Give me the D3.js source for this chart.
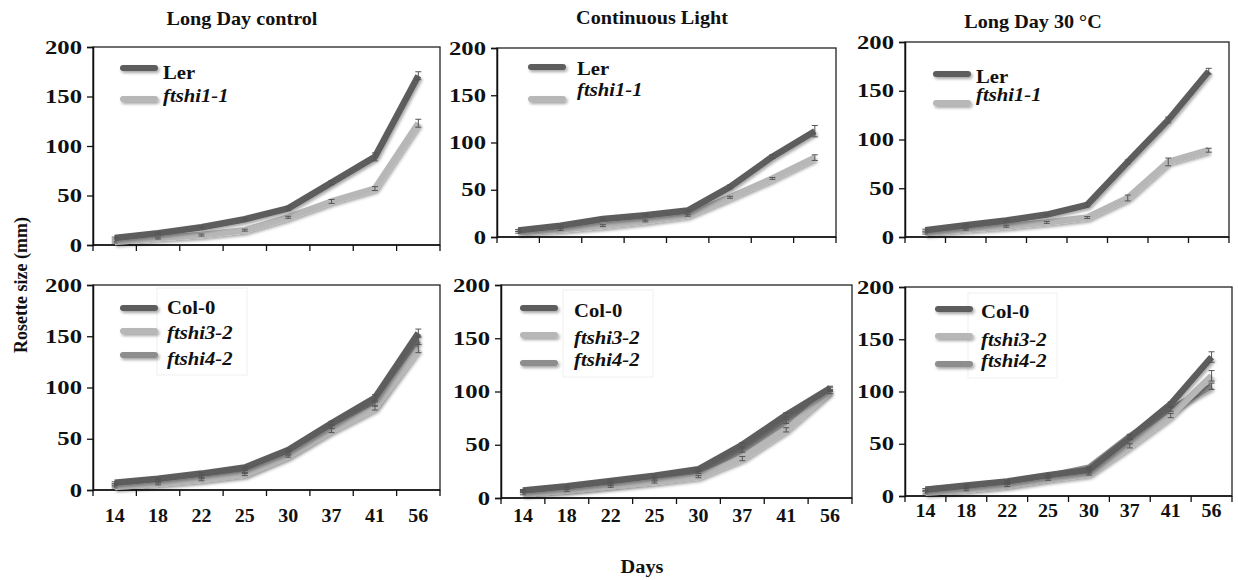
<!DOCTYPE html>
<html>
<head>
<meta charset="utf-8">
<script src="https://cdn.jsdelivr.net/npm/d3@7"></script>
<style>
  body { margin: 0; background: #fff; }
</style>
</head>
<body>
<div id="chart"></div>
<script>
// DATA
const days = ["14", "18", "22", "25", "30", "37", "41", "56"];
const yTicks = [0, 50, 100, 150, 200];
const titles = ["Long Day control", "Continuous Light", "Long Day 30 \u00B0C"];

// Ler / ftshi1-1
const lerLD = [7, 12, 18, 26, 37, 63, 89, 171];
const lerLDerr = [1, 1, 1, 1, 2, 2, 4, 4];
const ftshi1LD = [3, 7, 10, 15, 28, 44, 57, 123];
const ftshi1LDerr = [1, 1, 1, 1, 1, 2, 2, 4];

const lerCL = [7, 12, 19, 23, 28, 53, 85, 112];
const lerCLerr = [1, 1, 1, 1, 1, 2, 2, 6];
const ftshi1CL = [5, 8, 12, 17, 23, 42, 62, 84];
const ftshi1CLerr = [1, 1, 1, 1, 1, 1, 1, 3];

const lerHT = [7, 12, 17, 23, 33, 77, 120, 170];
const lerHTerr = [1, 1, 1, 1, 2, 2, 3, 3];
const ftshi1HT = [4, 8, 11, 15, 20, 40, 77, 89];
const ftshi1HTerr = [1, 1, 1, 1, 1, 3, 4, 2];

// Col-0 / ftshi3-2 / ftshi4-2
const colLD = [7, 11, 16, 22, 39, 65, 90, 153];
const colLDerr = [1, 1, 1, 1, 1, 2, 3, 4];
const ftshi3LD = [3, 6, 10, 15, 33, 58, 80, 138];
const ftshi3LDerr = [1, 1, 1, 1, 1, 2, 2, 4];
const ftshi4LD = [5, 9, 13, 18, 36, 62, 84, 146];
const ftshi4LDerr = [1, 1, 1, 1, 1, 2, 2, 4];

const colCL = [7, 11, 16, 21, 27, 50, 78, 103];
const colCLerr = [1, 1, 1, 1, 1, 2, 2, 2];
const ftshi3CL = [4, 7, 11, 15, 20, 37, 64, 100];
const ftshi3CLerr = [1, 1, 1, 1, 1, 2, 2, 2];
const ftshi4CL = [6, 9, 13, 18, 24, 45, 72, 102];
const ftshi4CLerr = [1, 1, 1, 1, 1, 2, 2, 2];

const colHT = [6, 10, 14, 20, 25, 56, 88, 133];
const colHTerr = [1, 1, 1, 1, 1, 2, 2, 5];
const ftshi3HT = [3, 6, 10, 16, 21, 48, 77, 115];
const ftshi3HTerr = [1, 1, 1, 1, 1, 2, 2, 5];
const ftshi4HT = [6, 9, 13, 19, 27, 57, 83, 105];
const ftshi4HTerr = [1, 1, 1, 1, 1, 2, 2, 3];

const width = 1238;
const height = 580;
const serif = "'Liberation Serif', 'Times New Roman', serif";

const colors = {dark: "#5d5d5d", light: "#b7b7b7", mid: "#8d8d8d"};

// layout of the six panels
const panels = [
  {x0: 93, x1: 440, top: 47, bot: 245, title: titles[0], tx: 242, ty: 25,
   series: [["Ler", lerLD, lerLDerr, "dark"], ["ftshi1-1", ftshi1LD, ftshi1LDerr, "light"]],
   leg: {sx: 123, tx: 163, sy: [68, 99], ty: [79, 102]}},
  {x0: 497, x1: 836, top: 48, bot: 237, title: titles[1], tx: 652, ty: 24,
   series: [["Ler", lerCL, lerCLerr, "dark"], ["ftshi1-1", ftshi1CL, ftshi1CLerr, "light"]],
   leg: {sx: 531, tx: 577, sy: [67, 99], ty: [75, 96]}},
  {x0: 905, x1: 1229, top: 42, bot: 237, title: titles[2], tx: 1033, ty: 28,
   series: [["Ler", lerHT, lerHTerr, "dark"], ["ftshi1-1", ftshi1HT, ftshi1HTerr, "light"]],
   leg: {sx: 936, tx: 976, sy: [74, 103], ty: [83, 101]}},
  {x0: 93, x1: 440, top: 285, bot: 490, labelDy: 32,
   series: [["Col-0", colLD, colLDerr, "dark"], ["ftshi3-2", ftshi3LD, ftshi3LDerr, "light"], ["ftshi4-2", ftshi4LD, ftshi4LDerr, "mid"]],
   leg: {sx: 123, tx: 167, sy: [308, 331, 355], ty: [314, 339, 365], box: [157, 288, 90, 87]}},
  {x0: 501, x1: 852, top: 285, bot: 498, labelDy: 24,
   series: [["Col-0", colCL, colCLerr, "dark"], ["ftshi3-2", ftshi3CL, ftshi3CLerr, "light"], ["ftshi4-2", ftshi4CL, ftshi4CLerr, "mid"]],
   leg: {sx: 523, tx: 574, sy: [308, 335, 363], ty: [317, 344, 366], box: [563, 290, 90, 87]}},
  {x0: 905, x1: 1232, top: 287, bot: 496, labelDy: 21,
   series: [["Col-0", colHT, colHTerr, "dark"], ["ftshi3-2", ftshi3HT, ftshi3HTerr, "light"], ["ftshi4-2", ftshi4HT, ftshi4HTerr, "mid"]],
   leg: {sx: 938, tx: 981, sy: [309, 336, 364], ty: [318, 346, 367], box: [968, 293, 89, 85]}}
];

const svg = d3.select("#chart")
  .append("svg")
  .attr("width", width)
  .attr("height", height);

const defs = svg.append("defs");
const filt = defs.append("filter").attr("id", "shadow")
  .attr("filterUnits", "userSpaceOnUse")
  .attr("x", 0).attr("y", 0).attr("width", width).attr("height", height);
filt.append("feDropShadow")
  .attr("dx", 1.5).attr("dy", 2).attr("stdDeviation", 1.4)
  .attr("flood-color", "#000").attr("flood-opacity", 0.35);

// stretched text helper (the source is a bit wider than tall)
function stretchText(g, x, y, str, size, sx, anchor, italic) {
  return g.append("text")
    .attr("transform", `translate(${x},${y}) scale(${sx},1)`)
    .attr("text-anchor", anchor || "start")
    .style("font-family", serif)
    .style("font-weight", "bold")
    .style("font-size", size + "px")
    .style("font-style", italic ? "italic" : "normal")
    .attr("fill", "#111")
    .text(str);
}

panels.forEach(function(p) {
  const g = svg.append("g");

  const x = d3.scaleBand().domain(days).range([p.x0, p.x1]).padding(0);
  const y = d3.scaleLinear().domain([0, 200]).range([p.bot, p.top]);

  // box
  g.append("rect")
    .attr("x", p.x0).attr("y", p.top)
    .attr("width", p.x1 - p.x0).attr("height", p.bot - p.top)
    .attr("fill", "none").attr("stroke", "#222").attr("stroke-width", 1.3);

  // y axis
  const yAxis = g.append("g")
    .attr("transform", `translate(${p.x0},0)`)
    .call(d3.axisLeft(y).tickValues(yTicks).tickSize(6).tickPadding(11));
  yAxis.select(".domain").attr("stroke", "#111").attr("stroke-width", 1.5);
  yAxis.selectAll(".tick line").attr("stroke", "#111").attr("stroke-width", 1.3);
  yAxis.selectAll(".tick text")
    .style("font-size", "19px")
    .style("font-family", serif)
    .style("font-weight", "bold")
    .attr("fill", "#111")
    .attr("transform", "scale(1.3,1)")
    .attr("x", -11 / 1.3);

  // x axis: ticks at category boundaries
  const bounds = days.map(function(d) { return x(d); }).concat([p.x1]);
  g.append("line")
    .attr("x1", p.x0).attr("x2", p.x1)
    .attr("y1", p.bot).attr("y2", p.bot)
    .attr("stroke", "#111").attr("stroke-width", 1.5);
  g.selectAll(".xt").data(bounds).enter().append("line")
    .attr("x1", function(d) { return d; }).attr("x2", function(d) { return d; })
    .attr("y1", p.bot).attr("y2", p.bot + 6)
    .attr("stroke", "#111").attr("stroke-width", 1.3);

  if (p.labelDy) {
    days.forEach(function(d) {
      stretchText(g, x(d) + x.bandwidth() / 2, p.bot + p.labelDy, d, 19, 1.05, "middle");
    });
  }

  if (p.title) {
    stretchText(g, p.tx, p.ty, p.title, 18, 1.12, "middle");
  }

  // legend
  if (p.leg.box) {
    g.append("rect")
      .attr("x", p.leg.box[0]).attr("y", p.leg.box[1])
      .attr("width", p.leg.box[2]).attr("height", p.leg.box[3])
      .attr("fill", "none").attr("stroke", "#f0f0f0").attr("stroke-width", 1);
  }
  p.series.forEach(function(s, i) {
    g.append("line")
      .attr("x1", p.leg.sx).attr("x2", p.leg.sx + 32)
      .attr("y1", p.leg.sy[i]).attr("y2", p.leg.sy[i])
      .attr("stroke", colors[s[3]]).attr("stroke-width", 6)
      .attr("stroke-linecap", "round")
      .attr("filter", "url(#shadow)");
    stretchText(g, p.leg.tx, p.leg.ty[i], s[0], 18, 1.15, "start", i > 0);
  });

  // lines (light first, dark on top)
  const line = d3.line()
    .x(function(d, i) { return x(days[i]) + x.bandwidth() / 2; })
    .y(function(d) { return y(d); });

  const order = p.series.slice().reverse();
  order.forEach(function(s) {
    g.append("path")
      .datum(s[1])
      .attr("d", line)
      .attr("fill", "none")
      .attr("stroke", colors[s[3]])
      .attr("stroke-width", 6.5)
      .attr("stroke-linejoin", "round")
      .attr("filter", "url(#shadow)");
  });

  // error bars
  p.series.forEach(function(s) {
    const eg = g.append("g");
    s[1].forEach(function(v, i) {
      const cx = x(days[i]) + x.bandwidth() / 2;
      const e = s[2][i];
      eg.append("line")
        .attr("x1", cx).attr("x2", cx)
        .attr("y1", y(v - e)).attr("y2", y(v + e))
        .attr("stroke", "#555").attr("stroke-width", 1);
      [v - e, v + e].forEach(function(c) {
        eg.append("line")
          .attr("x1", cx - 3).attr("x2", cx + 3)
          .attr("y1", y(c)).attr("y2", y(c))
          .attr("stroke", "#555").attr("stroke-width", 1);
      });
    });
  });
});

// axis titles
svg.append("text")
  .attr("transform", "translate(27,285) rotate(-90)")
  .attr("text-anchor", "middle")
  .style("font-family", serif)
  .style("font-weight", "bold")
  .style("font-size", "18px")
  .attr("fill", "#111")
  .text("Rosette size (mm)");

stretchText(svg, 642, 573, "Days", 18, 1.13, "middle");
</script>
</body>
</html>
